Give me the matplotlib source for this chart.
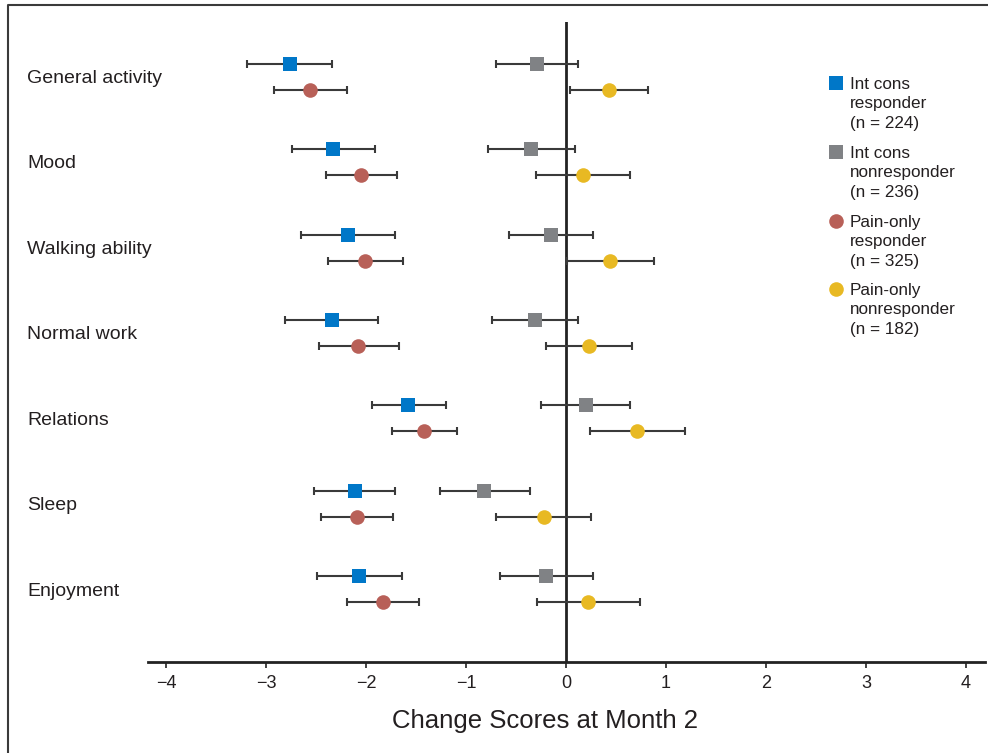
import matplotlib
matplotlib.use("Agg")
import matplotlib.pyplot as plt
from matplotlib.lines import Line2D
import matplotlib.transforms as mtransforms
import numpy as np

categories = ["General activity", "Mood", "Walking ability", "Normal work",
              "Relations", "Sleep", "Enjoyment"]

series_names = ["Int cons\nresponder\n(n = 224)",
                "Int cons\nnonresponder\n(n = 236)",
                "Pain-only\nresponder\n(n = 325)",
                "Pain-only\nnonresponder\n(n = 182)"]

# Int cons responder
icr_mean = [-2.76, -2.33, -2.18, -2.34, -1.58, -2.11, -2.07]
icr_low = [-3.19, -2.74, -2.65, -2.81, -1.94, -2.52, -2.49]
icr_high = [-2.34, -1.91, -1.71, -1.88, -1.20, -1.71, -1.64]
# Int cons nonresponder
icn_mean = [-0.29, -0.35, -0.15, -0.31, 0.20, -0.82, -0.20]
icn_low = [-0.70, -0.78, -0.57, -0.74, -0.25, -1.26, -0.66]
icn_high = [0.12, 0.09, 0.27, 0.12, 0.64, -0.36, 0.27]
# Pain-only responder
por_mean = [-2.56, -2.05, -2.01, -2.08, -1.42, -2.09, -1.83]
por_low = [-2.92, -2.40, -2.38, -2.47, -1.74, -2.45, -2.19]
por_high = [-2.19, -1.69, -1.63, -1.67, -1.09, -1.73, -1.47]
# Pain-only nonresponder
pon_mean = [0.43, 0.17, 0.44, 0.23, 0.71, -0.22, 0.22]
pon_low = [0.04, -0.30, 0.01, -0.20, 0.24, -0.70, -0.29]
pon_high = [0.82, 0.64, 0.88, 0.66, 1.19, 0.25, 0.74]

xticks = [-4, -3, -2, -1, 0, 1, 2, 3, 4]
xtick_labels = ["\u22124", "\u22123", "\u22122", "\u22121", "0", "1", "2", "3", "4"]

colors = ["#0077C8", "#808285", "#B86058", "#E8B923"]
markers = ["s", "s", "o", "o"]
offsets = [-0.152, -0.152, 0.152, 0.152]

W, H = 988, 753
fig = plt.figure(figsize=(W / 100, H / 100), dpi=100)
ax = fig.add_axes([148 / W, 1 - 662 / H, (985 - 148) / W, (662 - 22) / H])

sans = ["Liberation Sans", "DejaVu Sans"]
txt_color = "#231f20"

ypos = np.arange(len(categories))
data = [(icr_mean, icr_low, icr_high), (icn_mean, icn_low, icn_high),
        (por_mean, por_low, por_high), (pon_mean, pon_low, pon_high)]

ax.axvline(0, color="#222222", lw=2.0, zorder=1)

for (m, lo, hi), c, mk, off in zip(data, colors, markers, offsets):
    m = np.array(m); lo = np.array(lo); hi = np.array(hi)
    y = ypos + off
    ax.errorbar(m, y, xerr=[m - lo, hi - m], fmt="none", ecolor="#3a3a3a",
                elinewidth=1.5, capsize=3, capthick=1.5, zorder=2)
    ax.plot(m, y, linestyle="none", marker=mk, color=c,
            markersize=10.5 if mk == "o" else 10, markeredgewidth=0, zorder=3)

ax.set_xlim(-4.18, 4.19)
ax.set_ylim(6.85, -0.64)
ax.set_yticks([])
for s in ["top", "right", "left"]:
    ax.spines[s].set_visible(False)
ax.spines["bottom"].set_linewidth(2.0)
ax.spines["bottom"].set_color("#222222")
ax.set_xticks(xticks)
ax.set_xticklabels(xtick_labels, family=sans, fontsize=13, color=txt_color)
ax.tick_params(axis="x", direction="out", length=4, width=1.2, color="#222222", pad=5)
ax.set_xlabel("Change Scores at Month 2", family=sans, fontsize=18.5, labelpad=12,
              color=txt_color)
ax.xaxis.set_label_coords((545 - 148) / (985 - 148), -(721 - 662) / (662 - 22))
ax.xaxis.label.set_va("center")

# category labels
blend = mtransforms.blended_transform_factory(fig.transFigure, ax.transData)
for i, cat in enumerate(categories):
    ax.text(27 / W, ypos[i] + 0.02, cat, transform=blend, fontsize=14, family=sans,
            va="center", ha="left", color=txt_color, clip_on=False)

# legend (manual)
leg_y = [83, 152, 221, 289]
for name, c, mk, yy in zip(series_names, colors, markers, leg_y):
    fig.add_artist(Line2D([836 / W], [1 - yy / H], marker=mk, color=c, linestyle="none",
                          markersize=10.5 if mk == "o" else 10, markeredgewidth=0,
                          transform=fig.transFigure))
    for k, line in enumerate(name.split("\n")):
        fig.text(850 / W, 1 - (yy + 6 + 19.3 * k) / H, line, fontsize=12.3, family=sans,
                 va="baseline", ha="left", color=txt_color)

# figure border (top and left)
fig.add_artist(Line2D([7.5 / W, 7.5 / W, 1.0], [0.0, 1 - 4.5 / H, 1 - 4.5 / H],
                      color="#3a3a3a", lw=1.5, transform=fig.transFigure))

fig.savefig("out.png", dpi=100)
